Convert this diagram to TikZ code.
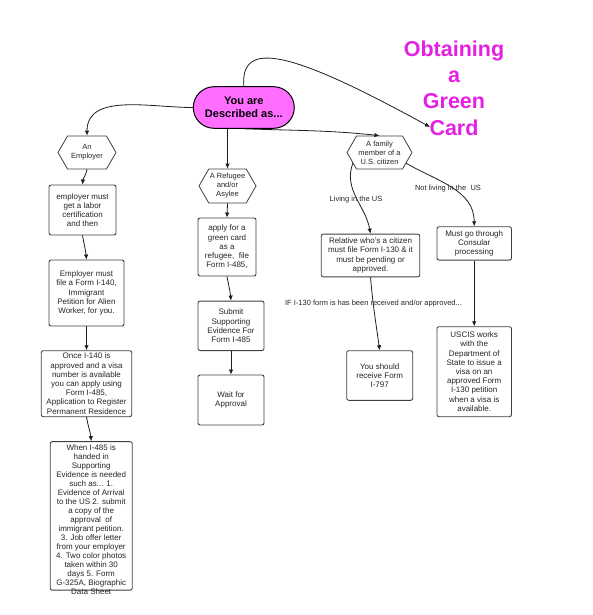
\documentclass[tikz,border=0pt]{standalone}
\usepackage{fontspec}
\setmainfont{Liberation Sans}
\usetikzlibrary{shapes.misc,shapes.symbols,arrows.meta}
\definecolor{pinkfill}{RGB}{255,110,255}
\definecolor{titlemag}{RGB}{228,32,228}
\definecolor{edgecol}{RGB}{30,30,30}
\begin{document}
\begin{tikzpicture}[x=1pt,y=-1pt,
  every node/.style={font=\fontsize{8}{9.2}\selectfont, text=black!85},
  box/.style={draw=black!75, line width=0.9pt, rounded corners=2pt, fill=white, align=center, inner sep=1pt},
  hexa/.style={signal, signal to=east and west, signal pointer angle=120, draw=black!75, line width=0.8pt, fill=white, align=center, inner sep=1pt, font=\fontsize{7.5}{9}\selectfont},
  arr/.style={draw=edgecol, line width=0.8pt, -{Latex[length=5pt,width=4.5pt]}},
  lbl/.style={font=\fontsize{7.5}{9}\selectfont, inner sep=0.5pt},
]
\path[use as bounding box] (0,0) rectangle (592,615);

% title
\node[font=\bfseries\fontsize{21.5}{26.3}\selectfont, text=titlemag, align=center] (title) at (454,88) {Obtaining\\a\\Green\\Card};
\coordinate (cardtip) at (430,127);

% main
\node[rounded rectangle, draw=black, line width=1pt, fill=pinkfill, minimum width=107.7pt, minimum height=41.6pt, align=center, font=\bfseries\fontsize{11}{13}\selectfont, text=black] (main) at (243.8,107.5) {You are\\Described as...};

% hexagons
\node[hexa, minimum width=58pt, minimum height=33pt] (emp) at (87,152.5) {An\\Employer};
\node[hexa, minimum width=57pt, minimum height=34pt] (ref) at (227.5,186) {A Refugee\\and/or\\Asylee};
\node[hexa, minimum width=65pt, minimum height=33pt] (fam) at (379.5,152.5) {A family\\member of a\\U.S. citizen};

% employer chain
\node[box, minimum width=67pt, minimum height=50pt] (b1) at (82.5,210) {employer must\\get a labor\\certification\\and then};
\node[box, minimum width=75pt, minimum height=66pt] (b2) at (86.5,293) {Employer must\\file a Form I-140,\\Immigrant\\Petition for Alien\\Worker, for you.};
\node[box, minimum width=90.5pt, minimum height=66pt] (b3) at (86.5,383.7) {Once I-140 is\\approved and a visa\\number is available\\you can apply using\\Form I-485,\\Application to Register\\Permanent Residence};
\node[box] (b4) at (91.2,515.9) {\parbox[c][146.5pt][t]{80pt}{\vspace*{1.6pt}\centering\fontsize{8}{9}\selectfont When I-485 is\\handed in\\Supporting\\Evidence is needed\\such as... 1.\\Evidence of Arrival\\to the US 2. submit\\a copy of the\\approval~ of\\immigrant petition.\\3. Job offer letter\\from your employer\\4. Two color photos\\taken within 30\\days 5. Form\\G-325A, Biographic\\Data Sheet}};

% refugee chain
\node[box, minimum width=58pt, minimum height=58pt] (r1) at (227,247) {apply for a\\green card\\as a\\refugee,~ file\\Form I-485,};
\node[box, minimum width=66pt, minimum height=49.5pt] (r2) at (231,325.8) {Submit\\Supporting\\Evidence For\\Form I-485};
\node[box, minimum width=66pt, minimum height=50pt] (r3) at (231,400) {Wait for\\Approval};

% family chain
\node[box, minimum width=98.5pt, minimum height=42.7pt] (f1) at (370.5,255.5) {Relative who's a citizen\\must file Form I-130 \& it\\must be pending or\\approved.};
\node[box, minimum width=74.5pt, minimum height=33.3pt] (f2) at (474.2,243.4) {Must go through\\Consular\\processing};
\node[box, minimum width=66pt, minimum height=49.6pt] (f3) at (379.7,375.5) {You should\\receive Form\\I-797};
\node[box, minimum width=74.5pt, minimum height=90pt] (f4) at (474.2,371.7) {USCIS works\\with the\\Department of\\State to issue a\\visa on an\\approved Form\\I-130 petition\\when a visa is\\available.};

% connectors from main
\draw[arr] (main.west) to[out=180,in=90] (emp.north);
\draw[arr] (main.south -| ref.north) -- (ref.north);
\draw[arr] (main.south) to[out=-2,in=174] (fam.north);
\draw[arr] (main.north) .. controls +(-3.5,-46.7) and +(-140,-77) .. (cardtip);

% employer chain connectors
\draw[arr] (emp.south) to[out=-100,in=85] (b1.north);
\draw[arr] (b1.south) to[out=-80,in=95] (b2.north);
\draw[arr] (b2.south) -- (b3.north);
\draw[arr] (b3.south) to[out=-80,in=95] (b4.north);

% refugee chain connectors
\draw[arr] (ref.south) -- (r1.north);
\draw[arr] (r1.south) to[out=-80,in=95] (r2.north);
\draw[arr] (r2.south) -- (r3.north);

% family chain connectors
\draw[arr] (fam.202) to[out=-110,in=100] (f1.north);
\draw[arr] (fam.-22) to[out=-30,in=90] (f2.north);
\draw[arr] (f1.south) to[out=-85,in=98] (f3.north);
\draw[arr] (f2.south) -- (f4.north);

% connector labels
\node[lbl] (lliving) at (356,199.3) {Living in the US};
\node[lbl] (lnot) at (448,188.7) {Not living in the~ US};
\node[lbl] (lif) at (373.5,304) {IF I-130 form is has been received and/or approved...};
\end{tikzpicture}
\end{document}
